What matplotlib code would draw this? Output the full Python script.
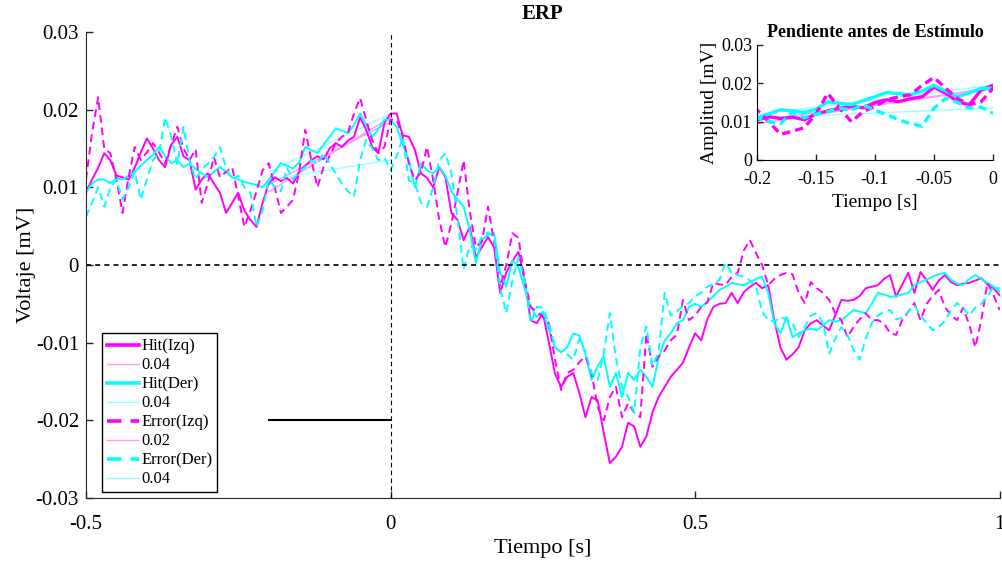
import numpy as np
import matplotlib
matplotlib.use('Agg')
import matplotlib.pyplot as plt
from matplotlib.ticker import FuncFormatter

plt.rcParams['font.family'] = ['Liberation Serif', 'DejaVu Serif']

# ERP traces, 10 ms steps from -0.5 s to 1 s, in units of 1e-3 mV
t_start = -0.5
t_step = 0.01

hit_izq = [9.3, 11, 12.5, 14.4, 13.5, 11.5, 11.3, 11, 12.5, 14.5,
           16.3, 15, 13.5, 12.6, 15.5, 16.5, 14, 13.5, 9.7, 11,
           11.8, 10.5, 9.3, 6.7, 8, 9.3, 7, 5.8, 4.9, 8,
           10.5, 11.3, 10.8, 11.2, 10.5, 12, 12.8, 13.5, 14, 13.6,
           15, 15.7, 15.2, 16, 16.5, 19, 17.4, 15.2, 14.4, 18.3,
           19.5, 19.5, 16.7, 16.5, 14.8, 11.8, 11.2, 10, 12.6, 11.3,
           6.7, 5.8, 3.2, 4.9, 1.0, 2.3, 3.6, 2.3, -3.6, -1.0,
           0.5, 1.7, -1.9, -7.1, -7.5, -6.2, -10, -14, -15.7, -14.4,
           -13.9, -16.5, -19.6, -17, -17.4, -21.6, -25.5, -24.7, -23.4, -20.3,
           -20.8, -23.4, -22.1, -19, -17, -15.7, -14.4, -13.5, -12.6, -10.6,
           -8.8, -9.7, -7, -5.4, -5, -4.9, -3.6, -4.9, -3.5, -2.8,
           -2.3, -3, -2.6, -7.1, -10.6, -12.2, -11.5, -10.6, -8.4, -7.5,
           -7.1, -7.8, -8.4, -6.5, -4.5, -4.6, -4.5, -4, -3.0, -2.8,
           -2.6, -1.8, -1.3, -4.1, -2.5, -1.0, -3.6, -0.9, -2, -3.2,
           -2, -1.3, -2.2, -2.6, -2.4, -2.3, -2, -1.7, -2.5, -3,
           -3.9]

hit_der = [9.3, 10.5, 11, 11, 10.5, 11.2, 11, 11.5, 12, 12.8,
           13.5, 14.2, 15.2, 14, 13.1, 13.5, 12.6, 13, 12.4, 11.8,
           11.3, 12, 12.6, 12, 11.3, 11, 10.7, 10.5, 10.3, 10,
           11, 12, 13.1, 12.8, 12.4, 13.2, 15.2, 14.8, 14.4, 15.5,
           16.5, 17.6, 17.3, 17, 18, 19.5, 18, 16.5, 17.5, 18.7,
           18.7, 17.8, 15.5, 13.5, 10, 13.1, 12.2, 11.8, 12.6, 11.5,
           9.5, 8.4, 7.5, 4.5, 0.3, 3.2, 3.9, 4.1, -1, -2.8,
           0.6, -0.3, -3, -5.4, -6.7, -6, -8.4, -10.6, -11.2, -10.6,
           -8.8, -9.1, -11.5, -14.8, -13, -11.8, -15.7, -13.9, -17, -13.9,
           -14.8, -13.5, -14.4, -15.7, -12, -9.7, -8.8, -7.5, -7.1, -5.4,
           -5, -5.4, -4.8, -4, -3.2, -2.8, -2.3, -2.5, -2.6, -2.2,
           -1.8, -1.5, -3.6, -7.5, -8.8, -6.7, -9.3, -8.8, -8.4, -8.2,
           -8.4, -7.8, -7.1, -7.3, -7.1, -6.5, -5.8, -6, -6.2, -5,
           -3.6, -3.8, -4.1, -4, -3.8, -3.6, -2.6, -2.2, -1.9, -1.5,
           -1.2, -1.0, -1.9, -2.4, -2.6, -1.8, -1.3, -1.8, -2.3, -2.8,
           -3.4]

err_izq = [11, 17, 21.6, 15, 14.4, 11, 6.7, 11.3, 15.2, 13.5,
           14.5, 15.7, 14.5, 13.1, 15.5, 17.8, 15, 13.5, 14.9, 8,
           10.5, 13.9, 11.3, 12, 12.6, 8.8, 4.9, 7, 9.5, 12.2,
           13.1, 10, 6.7, 7.5, 8.4, 12, 17.4, 13.5, 10, 12.6,
           14, 15.7, 16.5, 17, 19.5, 21.5, 18.7, 16, 14.4, 15.2,
           18.7, 18.7, 16.5, 13.1, 10.9, 12, 15.2, 10.9, 5.8, 2.3,
           5.4, 9.3, 13.5, 7, 2.3, 3, 7.5, 3, -2.8, 0,
           4.1, 3.5, -1.9, -5.4, -6, -6.7, -7.5, -12.2, -16.1, -13.9,
           -13.5, -12.5, -11.8, -13.9, -18.3, -20, -17, -15.7, -19.6, -17.8,
           -19, -19.6, -8.8, -13.1, -11.8, -11, -9.7, -9, -4.5, -7.1,
           -6.5, -5.4, -4.8, -2.3, -2.5, -2.6, -1.5, -1, 1.9, 3.2,
           1.5, 0, -2.6, -1.8, -1.3, -1, -1.2, -3.6, -4.9, -2.2,
           -3, -3.6, -4.5, -6.2, -7.1, -9.3, -8, -7, -6.2, -7.1,
           -7.1, -7.5, -8.8, -9, -7.1, -6, -4.9, -7.1, -5, -4,
           -3.2, -5.4, -6.5, -7.1, -5.5, -7.7, -10.6, -7, -2.3, -3.9,
           -5.8]

err_der = [6.2, 8, 10, 7.5, 10, 11, 8.4, 10, 12, 8.4,
           11, 13.5, 14.4, 19, 16.5, 13, 17.8, 13.5, 11, 12.4,
           13, 13.9, 15.2, 12.5, 11, 11.5, 10, 9.3, 4.9, 7,
           11, 10, 9.5, 12.5, 11, 12, 12.6, 13.5, 13, 14.4,
           13, 11.8, 10.5, 9.5, 8.8, 13.5, 16.1, 15, 13.5, 13.8,
           12.2, 14, 16.5, 10.9, 10.5, 8, 7.5, 10, 13.5, 14.4,
           11.8, 6, -0.6, 2.5, 2, 3.6, 4.2, 3.6, -3, -6.2,
           -2, 1, -1.9, -7.5, -5.4, -5.5, -7.5, -10.6, -11.2, -11.5,
           -12.2, -9.5, -11.2, -13.9, -14.8, -11.4, -6.2, -12, -15.7, -17,
           -19, -10.6, -7.9, -13, -11.2, -3.6, -6.5, -6, -5.2, -4.9,
           -4, -3.6, -2.8, -2.5, -1.9, 0.3, -1, -1.3, -1.5, -2,
           -2.8, -6, -7.1, -7.3, -6.7, -7, -7.5, -9.3, -8, -6.5,
           -6.2, -7.5, -11.4, -9.5, -8, -9, -10.9, -12.2, -9.5, -7.5,
           -6.5, -6, -5.8, -7, -6.8, -6, -5.2, -6.5, -7.5, -8.4,
           -8, -7.2, -5.8, -4.9, -5.5, -6.5, -5.5, -5, -4, -2.8,
           -3]

names = ['Hit(Izq)', 'Hit(Der)', 'Error(Izq)', 'Error(Der)']
slope_labels = ['0.04', '0.04', '0.02', '0.04']
series = [hit_izq, hit_der, err_izq, err_der]
colors = ['#ff00ff', '#00ffff', '#ff00ff', '#00ffff']
fit_colors = ['#ff99ff', '#99ffff', '#ff99ff', '#99ffff']
styles = ['-', '-', '--', '--']

fit_window = [-0.2, 0.0]
baseline_level = -0.02

fig = plt.figure(figsize=(10.03, 5.61), dpi=100)
ax = fig.add_axes([0.0857, 0.1123, 0.911, 0.8307])
ins = fig.add_axes([0.7547, 0.7148, 0.2353, 0.205])

handles = []
for vals, name, lab, c, fc, ls in zip(series, names, slope_labels, colors, fit_colors, styles):
    v = np.array(vals) * 1e-3
    t = t_start + t_step * np.arange(len(v))
    kw = dict(color=c, linestyle=ls)
    if ls == '--':
        kw['dashes'] = (4, 2.5)
    h1, = ax.plot(t, v, label=name, lw=1.4, **kw)
    if ls == '--':
        kw['dashes'] = (2.5, 1.5)
    ins.plot(t, v, lw=2.4, **kw)
    m = (t >= fit_window[0] - 1e-9) & (t <= fit_window[1] + 1e-9)
    p = np.polyfit(t[m], v[m], 1)
    h2, = ax.plot(t[m], np.polyval(p, t[m]), color=fc, lw=1, label=lab, zorder=1)
    ins.plot(t[m], np.polyval(p, t[m]), color=fc, lw=1, zorder=1)
    handles += [h1, h2]

ax.axvline(0, color='k', lw=0.8, linestyle='--', dashes=(4, 3))
ax.axhline(0, color='k', lw=1.2, linestyle='--', dashes=(3, 2.5))
ax.plot(fit_window, [baseline_level, baseline_level], color='k', lw=1.5)

fmt = FuncFormatter(lambda x, pos: '%g' % round(x, 3))

ax.set_xlim(-0.5, 1)
ax.set_ylim(-0.03, 0.03)
ax.set_xticks([-0.5, 0, 0.5, 1])
ax.set_yticks([-0.03, -0.02, -0.01, 0, 0.01, 0.02, 0.03])
ax.xaxis.set_major_formatter(fmt)
ax.yaxis.set_major_formatter(fmt)
ax.tick_params(direction='in', labelsize=15, length=5, width=1, colors='#262626')
ax.tick_params(axis='x', pad=12)
ax.tick_params(axis='y', pad=5)
ax.tick_params(labelcolor='k')
for s in ['top', 'right']:
    ax.spines[s].set_visible(False)
for s in ['left', 'bottom']:
    ax.spines[s].set_color('#262626')
ax.set_xlabel('Tiempo [s]', fontsize=16, labelpad=4)
ax.set_ylabel('Voltaje [mV]', fontsize=16, labelpad=0)
ax.set_title('ERP', fontsize=15, fontweight='bold', pad=9)

leg = ax.legend(handles=handles, loc='lower left', bbox_to_anchor=(0.0175, 0.012),
                fontsize=12, handlelength=1.9, handletextpad=0.15, labelspacing=0.18,
                borderpad=0.3, borderaxespad=0, fancybox=False, edgecolor='k', framealpha=1)
leg.get_frame().set_linewidth(1)
for i, line in enumerate(leg.get_lines()):
    if i % 2 == 0:
        line.set_linewidth(2.6)

ins.set_xlim(-0.2, 0)
ins.set_ylim(0, 0.03)
ins.set_xticks([-0.2, -0.15, -0.1, -0.05, 0])
ins.set_yticks([0, 0.01, 0.02, 0.03])
ins.xaxis.set_major_formatter(fmt)
ins.yaxis.set_major_formatter(fmt)
ins.tick_params(direction='in', labelsize=13, length=4, width=1, colors='#262626')
ins.tick_params(axis='x', pad=8)
ins.tick_params(labelcolor='k')
for s in ['top', 'right']:
    ins.spines[s].set_visible(False)
ins.set_xlabel('Tiempo [s]', fontsize=14, labelpad=4)
ins.set_ylabel('Amplitud [mV]', fontsize=14, labelpad=2)
ins.set_title('Pendiente antes de Estímulo', fontsize=13, fontweight='bold', pad=6)

fig.savefig('out.png', dpi=100)
